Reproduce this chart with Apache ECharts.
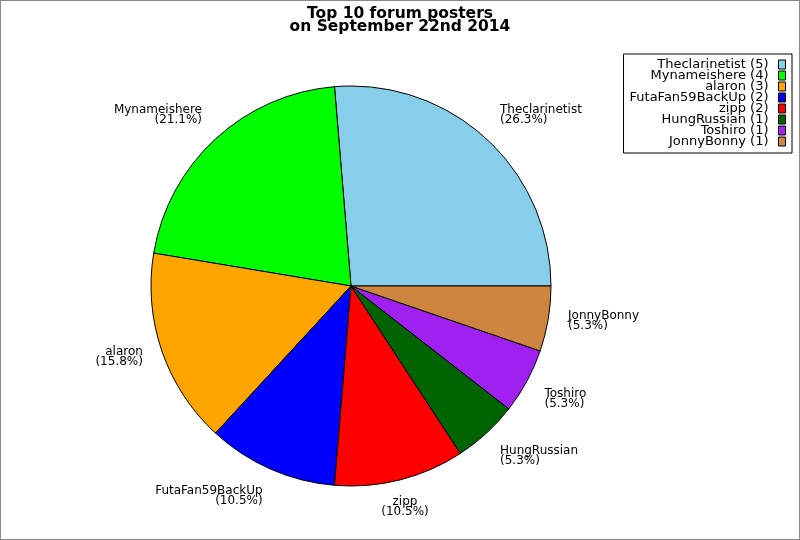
<!DOCTYPE html>
<html>
<head>
<meta charset="utf-8">
<script src="https://cdn.jsdelivr.net/npm/echarts@6/dist/echarts.min.js"></script>
<style>
html,body{margin:0;padding:0;background:#fff;}
#c{width:800px;height:540px;box-sizing:border-box;border:1px solid #888;}
</style>
</head>
<body>
<div id="c"></div>
<script>
const titleLines = ['Top 10 forum posters', 'on September 22nd 2014'];
const names = ['Theclarinetist', 'Mynameishere', 'alaron', 'FutaFan59BackUp', 'zipp', 'HungRussian', 'Toshiro', 'JonnyBonny'];
const posts = [5, 4, 3, 2, 2, 1, 1, 1];
const colors = ['#87CEEB', '#00FF00', '#FFA500', '#0000FF', '#FF0000', '#006400', '#A020F0', '#CD853F'];

const total = posts.reduce((a, b) => a + b, 0);
const midAngles = [];
let acc = 0;
posts.forEach(v => { midAngles.push((acc + v / 2) / total * 2 * Math.PI); acc += v; });

const CX = 350, CY = 285, R = 200, LABEL_R = 220;
const font = 'DejaVu Sans';
const chart = echarts.init(document.getElementById('c'), null, {renderer: 'canvas'});
chart.setOption({
  animation: false,
  backgroundColor: '#fff',
  title: {
    text: titleLines.join('\n'),
    left: 'center',
    top: 1,
    textStyle: {fontFamily: font, fontSize: 15.5, fontWeight: 'bold', color: '#000', lineHeight: 13}
  },
  legend: {
    orient: 'vertical',
    right: 7,
    top: 53,
    align: 'right',
    itemWidth: 7,
    itemHeight: 9,
    itemGap: -2,
    padding: [4, 6, 5, 6],
    borderColor: '#000',
    borderWidth: 1,
    icon: 'rect',
    itemStyle: {borderColor: '#000', borderWidth: 1},
    textStyle: {fontFamily: font, fontSize: 13, color: '#000', lineHeight: 11, padding: [0, 5, 0, 0]},
    formatter: n => n + ' (' + posts[names.indexOf(n)] + ')',
    data: names
  },
  series: [{
    type: 'pie',
    center: [CX, CY],
    radius: R,
    startAngle: 0,
    clockwise: false,
    avoidLabelOverlap: false,
    itemStyle: {borderColor: '#000', borderWidth: 1},
    emphasis: {disabled: true},
    label: {
      show: true,
      position: 'outside',
      formatter: p => p.name + '\n(' + (p.value / total * 100).toFixed(1) + '%)',
      fontFamily: font,
      fontSize: 12,
      lineHeight: 10,
      color: '#000',
      distanceToLabelLine: 0
    },
    labelLine: {show: false, length: 20, length2: 0},
    labelLayout: function (p) {
      const a = midAngles[p.dataIndex];
      const c = Math.cos(a), s = Math.sin(a);
      const ax = CX + LABEL_R * c;
      const ay = CY - LABEL_R * s;
      let align = 'center', va = 'middle', y = ay - 1;
      if (c > 0.3) align = 'left';
      else if (c < -0.3) align = 'right';
      if (s > 0.35) { va = 'bottom'; y = ay + 1; }
      else if (s < -0.35) { va = 'top'; y = ay - 2; }
      return {x: ax, y: y, align: align, verticalAlign: va};
    },
    data: names.map((n, i) => ({name: n, value: posts[i], itemStyle: {color: colors[i]}}))
  }]
});
</script>
</body>
</html>
